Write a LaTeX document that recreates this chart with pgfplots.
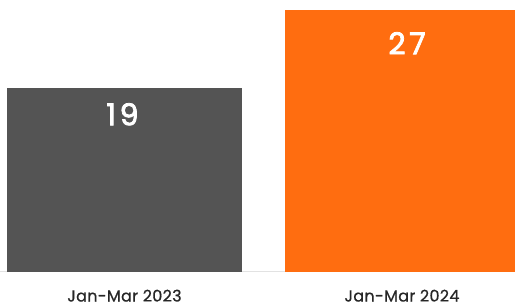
\documentclass[border=0pt]{standalone}
\usepackage{fontspec}
\setmainfont{Poppins}
\newfontfamily\numfont{Poppins}[FakeBold=2.5, LetterSpace=12]
\newfontfamily\labfont{Poppins}[FakeBold=0.8, LetterSpace=2]
\usepackage{pgfplots}
\pgfplotsset{compat=1.18}
\definecolor{bargray}{HTML}{545454}
\definecolor{barorange}{HTML}{FF6D10}
\definecolor{baseline}{HTML}{E2E2E2}
\begin{document}
\begin{tikzpicture}
\begin{axis}[
  at={(0pt,0pt)}, anchor=north west,
  scale only axis,
  width=515pt, height=271.5pt,
  xmin=-0.4486, xmax=1.4072,
  ymin=0, ymax=28.08,
  ybar, bar width=235pt,
  axis y line=none,
  axis x line*=bottom,
  x axis line style={draw=baseline, line width=1pt, -},
  xtick={0,1},
  xticklabels={Jan-Mar 2023, Jan-Mar 2024},
  major tick length=0pt,
  x tick label style={font=\labfont\fontsize{16}{18}\selectfont, text=black!85, anchor=base, yshift=-30pt},
  ytick=\empty,
  /pgf/number format/assume math mode=true,
  nodes near coords,
  nodes near coords style={font=\numfont\fontsize{30}{32}\selectfont, text=white, anchor=base},
  clip=true,
]
\addplot[fill=bargray, draw=none, bar shift=0pt,
  nodes near coords style={yshift=-37.5pt, xshift=-2pt}]
  coordinates {(0,19)};
\addplot[fill=barorange, draw=none, bar shift=0pt,
  nodes near coords style={yshift=-43.8pt, xshift=5pt}]
  coordinates {(1,27)};
\end{axis}
\pgfresetboundingbox
\path[use as bounding box] (0pt,-308pt) rectangle (515pt,0pt);
\end{tikzpicture}
\end{document}
